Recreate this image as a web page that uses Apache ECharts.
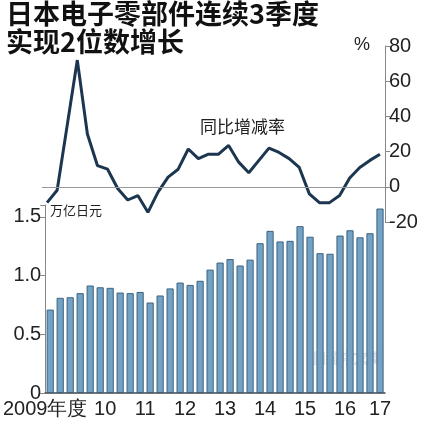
<!DOCTYPE html>
<html>
<head>
<meta charset="utf-8">
<script src="https://cdn.jsdelivr.net/npm/echarts@6/dist/echarts.min.js"></script>
<style>
  html, body { margin: 0; padding: 0; background: #fff; }
  #chart { width: 429px; height: 433px; }
</style>
</head>
<body>
<div id="chart"></div>
<script>
// 2009年度Q1 ~ 2017年度Q2，季度
const quarters = [];
for (let y = 2009; y <= 2017; y++) {
  for (let q = 1; q <= 4; q++) {
    if (y === 2017 && q > 2) break;
    quarters.push(y + 'Q' + q);
  }
}
const yearLabels = ['2009年度', '10', '11', '12', '13', '14', '15', '16', '17'];
// 电子零部件出货额（万亿日元）
const sales = [0.71, 0.81, 0.815, 0.85, 0.915, 0.90, 0.895, 0.855, 0.85, 0.86, 0.77, 0.83,
  0.89, 0.94, 0.92, 0.955, 1.05, 1.11, 1.14, 1.085, 1.135, 1.275, 1.38, 1.29,
  1.295, 1.42, 1.33, 1.19, 1.185, 1.34, 1.385, 1.325, 1.36, 1.57];
// 同比增减率（%）
const growth = [-9, -2, 35, 72, 30, 12, 10, -1, -7.5, -5, -14.5, -3,
  5.5, 10, 21.5, 16, 18.5, 18.5, 23.5, 14, 8, 15, 22, 19.5,
  16, 11, -4, -9, -9, -5, 5, 11, 15, 18.5];

const font = '"Liberation Sans Narrow", "Liberation Sans", sans-serif';
const cjk = '"Noto Sans CJK SC", sans-serif';

// 年份标签放在哪根柱子下面
const labelAt = (i) => i === 1 || i === 33 || (i % 4 === 2 && i > 2 && i < 33);

const chart = echarts.init(document.getElementById('chart'));
chart.setOption({
  animation: false,
  graphic: [
    { type: 'text', left: 6, top: 0, style: { text: '日本电子零部件连续3季度\n实现2位数增长', font: 'bold 27px ' + cjk, fill: '#111', lineHeight: 28 } },
    { type: 'text', left: 354, top: 36, style: { text: '%', font: '18px ' + font, fill: '#222' } },
    { type: 'text', left: 200, top: 118, style: { text: '同比增减率', font: '17px ' + cjk, fill: '#222' } },
    { type: 'text', left: 50, top: 204, style: { text: '万亿日元', font: '13px ' + cjk, fill: '#222' } },
    { type: 'text', left: 312, top: 350, style: { text: '日经中文网', font: 'bold 14px ' + cjk, fill: 'rgba(235,235,245,0.9)', stroke: 'rgba(130,130,150,0.6)', lineWidth: 0.6 } }
  ],
  grid: [
    { left: 42, right: 44, top: 46, height: 176 },
    { left: 42, right: 44, top: 205, bottom: 40 }
  ],
  xAxis: [
    { gridIndex: 0, type: 'category', data: quarters, boundaryGap: true, show: false },
    {
      gridIndex: 1, type: 'category', data: quarters, boundaryGap: true,
      axisLine: { lineStyle: { color: '#444', width: 1.5 } },
      axisTick: { interval: 3, length: 8, lineStyle: { color: '#444' } },
      axisLabel: {
        interval: (i) => labelAt(i),
        hideOverlap: false,
        formatter: (v, i) => {
          if (i === 1) return '{first|' + yearLabels[0] + '}';
          if (i === 33) return '{last|' + yearLabels[8] + '}';
          return '{mid|' + yearLabels[Math.floor(i / 4)] + '}';
        },
        rich: {
          first: { fontFamily: font, fontSize: 20, color: '#222', padding: [0, 30, 0, 0] },
          mid: { fontFamily: font, fontSize: 20, color: '#222', padding: [0, 10, 0, 0] },
          last: { fontFamily: font, fontSize: 20, color: '#222' }
        },
        margin: 6
      }
    }
  ],
  yAxis: [
    {
      gridIndex: 0, type: 'value', position: 'right', min: -20, max: 80, interval: 20,
      axisLine: { show: true, lineStyle: { color: '#888' } },
      axisTick: { show: true, length: 5, lineStyle: { color: '#888' } },
      splitLine: { show: false },
      axisLabel: { fontFamily: font, fontSize: 20, color: '#222', margin: 4 }
    },
    {
      gridIndex: 1, type: 'value', min: 0, max: 1.6, interval: 0.5,
      axisLine: { show: true, lineStyle: { color: '#888' } },
      axisTick: { show: true, length: 5, lineStyle: { color: '#888' } },
      splitLine: { show: false },
      axisLabel: {
        fontFamily: font, fontSize: 20, color: '#222', margin: 4,
        formatter: (v) => v === 0 ? '0' : (Math.abs(v * 2 - Math.round(v * 2)) < 1e-6 ? v.toFixed(1) : '')
      }
    }
  ],
  series: [
    {
      type: 'bar', xAxisIndex: 1, yAxisIndex: 1, data: sales, barCategoryGap: '28%',
      itemStyle: { color: '#72a2c4', borderColor: '#3d6280', borderWidth: 1 }
    },
    {
      type: 'line', xAxisIndex: 0, yAxisIndex: 0, data: growth, symbol: 'none',
      lineStyle: { color: '#1c3650', width: 3 },
      markLine: {
        silent: true, symbol: 'none', label: { show: false },
        lineStyle: { color: '#999', type: 'solid', width: 1 },
        data: [{ yAxis: 0 }]
      }
    }
  ]
});
</script>
</body>
</html>
